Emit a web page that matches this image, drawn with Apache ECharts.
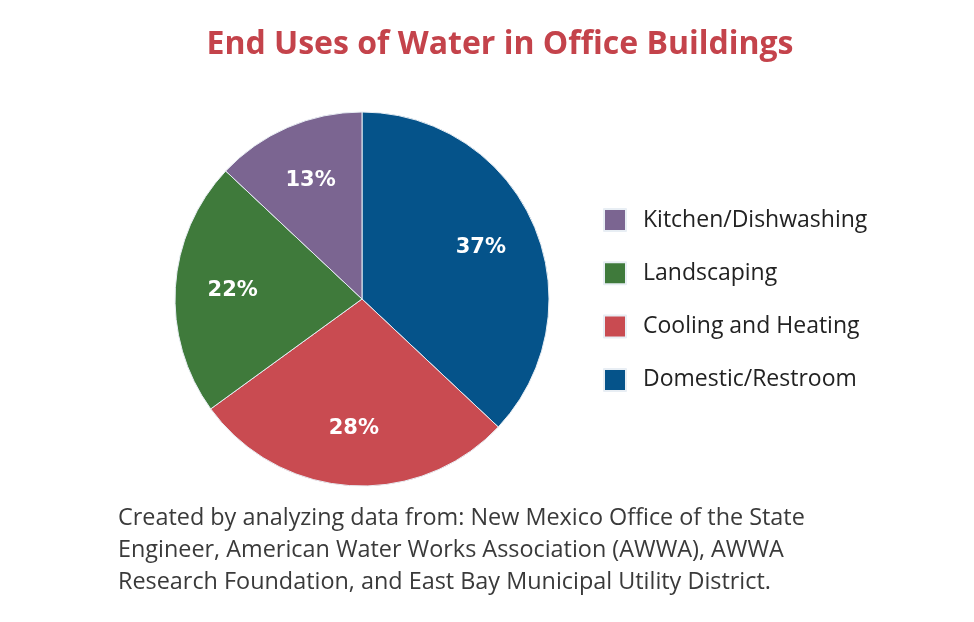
<!DOCTYPE html>
<html>
<head>
<meta charset="utf-8">
<script src="https://cdn.jsdelivr.net/npm/echarts@6/dist/echarts.min.js"></script>
<style>html,body{margin:0;padding:0;background:#fff}#c{width:974px;height:622px}</style>
</head>
<body>
<div id="c"></div>
<script>
const categories = ["Domestic/Restroom", "Cooling and Heating", "Landscaping", "Kitchen/Dishwashing"];
const values = [37, 28, 22, 13];
const colors = ["#05538a", "#c94b51", "#3f7a3b", "#7b6591"];
const legendOrder = ["Kitchen/Dishwashing", "Landscaping", "Cooling and Heating", "Domestic/Restroom"];
const titleText = "End Uses of Water in Office Buildings";
const noteLines = [
  "Created by analyzing data from: New Mexico Office of the State",
  "Engineer, American Water Works Association (AWWA), AWWA",
  "Research Foundation, and East Bay Municipal Utility District."
];

const data = categories.map((c, i) => ({ name: c, value: values[i], itemStyle: { color: colors[i] } }));
const chart = echarts.init(document.getElementById('c'));
chart.setOption({
  backgroundColor: '#fff',
  animation: false,
  title: {
    text: titleText, left: 495, top: 24, textAlign: 'center',
    textStyle: { color: '#c4434b', fontSize: 32, fontWeight: 'bold', fontFamily: 'Open Sans' }
  },
  legend: {
    orient: 'vertical', left: 598, top: 203, itemWidth: 22, itemHeight: 22, itemGap: 29.3,
    icon: 'rect', data: legendOrder, selectedMode: false,
    textStyle: { fontSize: 23, color: '#222', fontFamily: 'Open Sans', padding: [0, 0, 0, 12] }
  },
  series: [
    {
      type: 'pie', center: [362, 299], radius: 187, startAngle: 90, clockwise: true,
      data: data, label: { show: false }, labelLine: { show: false },
      itemStyle: { borderColor: '#e8eef4', borderWidth: 1 }, emphasis: { disabled: true }
    },
    {
      type: 'pie', center: [362, 299], radius: [66, 187], startAngle: 90, clockwise: true, silent: true,
      data: data.map(d => ({ name: d.name, value: d.value, itemStyle: { color: 'rgba(0,0,0,0)' } })),
      label: { show: true, position: 'inside', formatter: '{c}%', color: '#fff', fontSize: 21, fontWeight: 'bold', fontFamily: 'DejaVu Sans' },
      labelLine: { show: false }, legendHoverLink: false, emphasis: { disabled: true }
    }
  ],
  graphic: noteLines.map((t, i) => ({
    type: 'text', left: 118, top: 507 + i * 32,
    style: { text: t, fill: '#3a3a3a', fontSize: 23.4, fontFamily: 'Open Sans' }
  }))
});
</script>
</body>
</html>
